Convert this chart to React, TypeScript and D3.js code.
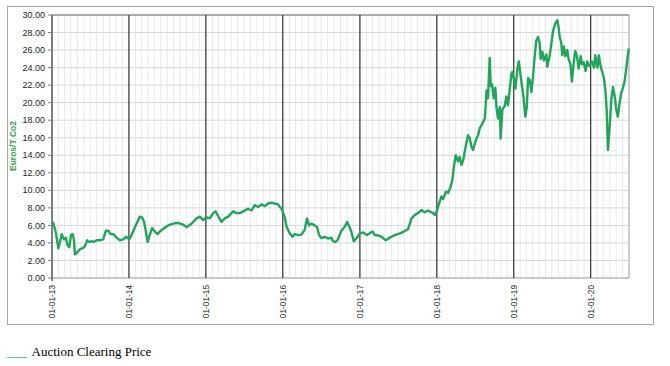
import React from "react";
import * as d3 from "d3";

const dates: string[] = [
  "2013-01-01","2013-01-07","2013-01-20","2013-01-31","2013-02-08","2013-02-16","2013-02-27","2013-03-08","2013-03-15","2013-03-24",
  "2013-04-01","2013-04-09","2013-04-15","2013-04-20","2013-05-01","2013-05-14","2013-05-27","2013-06-06","2013-06-17","2013-06-27",
  "2013-07-08","2013-07-16","2013-08-01","2013-08-17","2013-09-01","2013-09-14","2013-09-25","2013-10-06","2013-10-19","2013-11-04",
  "2013-11-19","2013-12-05","2013-12-18","2013-12-29",
  "2014-01-06","2014-01-21","2014-02-06","2014-02-22","2014-03-05","2014-03-14","2014-03-21","2014-03-31","2014-04-11","2014-04-21",
  "2014-05-04","2014-05-17","2014-05-28","2014-06-12","2014-07-06","2014-07-30","2014-08-23","2014-09-15","2014-10-01","2014-10-25",
  "2014-11-18","2014-12-04","2014-12-19",
  "2015-01-04","2015-01-20","2015-02-05","2015-02-16","2015-02-28","2015-03-16","2015-04-01","2015-04-17","2015-05-10","2015-05-26",
  "2015-06-11","2015-06-27","2015-07-20","2015-08-06","2015-08-21","2015-09-06","2015-09-22","2015-10-08","2015-10-23","2015-11-08",
  "2015-11-24","2015-12-10","2015-12-18","2015-12-26",
  "2016-01-10","2016-01-19","2016-01-26","2016-02-03","2016-02-16","2016-02-27","2016-03-14","2016-03-30","2016-04-14","2016-04-25",
  "2016-05-05","2016-05-16","2016-06-01","2016-06-12","2016-06-21","2016-07-02","2016-07-18","2016-08-03","2016-08-19","2016-08-26",
  "2016-09-08","2016-09-19","2016-10-05","2016-10-21","2016-11-02","2016-11-13","2016-11-21","2016-12-03","2016-12-15",
  "2017-01-02","2017-01-17","2017-02-02","2017-02-17","2017-03-02","2017-03-13","2017-03-29","2017-04-14","2017-05-04","2017-05-23",
  "2017-06-16","2017-07-10","2017-07-29","2017-08-18","2017-09-03","2017-09-19","2017-10-04","2017-10-20","2017-11-05","2017-11-20",
  "2017-12-06","2017-12-14","2017-12-22",
  "2018-01-02","2018-01-12","2018-01-23","2018-01-31","2018-02-13","2018-02-24","2018-03-07","2018-03-16","2018-03-23","2018-04-01",
  "2018-04-12","2018-04-20","2018-04-28","2018-05-06","2018-05-18","2018-05-29","2018-06-06","2018-06-14","2018-06-22","2018-07-05",
  "2018-07-16","2018-07-24","2018-08-05","2018-08-17","2018-08-25","2018-09-01","2018-09-09","2018-09-14","2018-09-20","2018-09-28",
  "2018-10-06","2018-10-11","2018-10-18","2018-10-27","2018-10-31","2018-11-08","2018-11-19","2018-11-27","2018-12-05","2018-12-13",
  "2018-12-21","2018-12-25",
  "2019-01-02","2019-01-09","2019-01-19","2019-01-25","2019-02-03","2019-02-11","2019-02-17","2019-02-25","2019-03-04","2019-03-10",
  "2019-03-18","2019-03-26","2019-04-02","2019-04-10","2019-04-18","2019-04-26","2019-05-04","2019-05-09","2019-05-17","2019-05-24",
  "2019-06-05","2019-06-09","2019-06-20","2019-06-28","2019-07-06","2019-07-17","2019-07-27","2019-08-02","2019-08-07","2019-08-15",
  "2019-08-19","2019-08-27","2019-09-03","2019-09-12","2019-09-19","2019-09-27","2019-10-04","2019-10-12","2019-10-20","2019-10-28",
  "2019-11-05","2019-11-15","2019-11-21","2019-11-29","2019-12-08","2019-12-16","2019-12-24",
  "2020-01-02","2020-01-07","2020-01-17","2020-01-23","2020-02-02","2020-02-09","2020-02-17","2020-02-25","2020-03-04","2020-03-11",
  "2020-03-17","2020-03-23","2020-03-31","2020-04-08","2020-04-16","2020-04-24","2020-05-02","2020-05-09","2020-05-17","2020-05-25",
  "2020-06-02","2020-06-10","2020-06-18","2020-06-26","2020-06-30",
];

const prices: number[] = [
  6.4,6.3,5.1,3.4,4.1,5.0,4.4,4.6,3.8,3.5,
  4.9,5.0,4.4,2.7,2.9,3.3,3.4,3.6,4.3,4.1,
  4.2,4.1,4.3,4.3,4.4,5.4,5.4,5.0,5.0,4.6,
  4.3,4.4,4.7,4.5,
  4.5,5.3,6.2,7.0,6.9,6.4,5.5,4.1,5.0,5.7,
  5.3,5.0,5.3,5.6,6.0,6.2,6.3,6.1,5.8,6.2,
  6.8,7.0,6.6,
  6.9,6.8,7.4,7.6,7.1,6.4,6.8,7.0,7.6,7.4,
  7.4,7.6,7.9,7.7,8.3,8.1,8.4,8.2,8.5,8.6,
  8.5,8.4,8.1,7.9,
  7.0,5.85,5.5,5.1,4.7,5.0,4.9,4.95,5.5,6.8,
  6.0,6.2,6.0,5.8,4.9,4.55,4.7,4.5,4.6,4.2,
  4.1,4.4,5.4,5.85,6.4,5.8,5.3,4.2,4.5,
  5.1,5.2,4.9,5.1,5.3,4.9,4.85,4.7,4.3,4.6,
  4.9,5.1,5.3,5.6,6.8,7.2,7.4,7.75,7.5,7.7,
  7.5,7.4,7.2,
  7.7,8.5,9.3,9.0,9.85,9.7,10.4,11.2,12.7,14.0,
  13.3,13.8,12.9,13.4,15.0,16.3,16.0,15.0,14.6,15.7,
  16.3,17.1,17.6,18.2,21.4,20.5,25.1,21.9,22.1,20.5,
  21.7,19.5,18.2,19.5,15.9,19.2,19.6,20.7,19.7,21.5,
  23.3,23.5,
  22.6,21.6,24.0,24.7,23.0,21.6,20.5,18.4,19.5,22.8,
  22.6,21.2,22.8,25.2,27.1,27.5,26.8,25.0,25.8,24.8,
  25.5,24.1,25.3,26.6,28.1,29.05,29.4,28.6,27.5,26.8,
  25.4,26.4,25.3,26.0,24.9,24.4,22.4,24.4,25.9,25.3,
  23.9,25.3,24.4,24.6,23.6,24.7,24.2,
  24.4,24.7,24.0,25.4,24.0,25.4,24.2,23.5,22.8,21.4,
  19.2,14.6,17.2,20.3,21.8,20.7,19.2,18.4,19.9,21.1,
  21.7,22.4,23.9,25.5,26.2,
];

const yTicks: number[] = [0, 2, 4, 6, 8, 10, 12, 14, 16, 18, 20, 22, 24, 26, 28, 30];
const yearTicks: string[] = ["2013-01-01","2014-01-01","2015-01-01","2016-01-01","2017-01-01","2018-01-01","2019-01-01","2020-01-01"];
const xStart = "2013-01-01";
const xEnd = "2020-07-01";
const yTitle = "Euros/T Co2";
const legendLabel = "Auction Clearing Price";

const W = 670;
const H = 366;
const L = 52, R = 629, T = 15, B = 278;

export default function App() {
  const parse = d3.timeParse("%Y-%m-%d");
  const x = d3.scaleTime().domain([parse(xStart)!, parse(xEnd)!]).range([L, R]);
  const y = d3.scaleLinear().domain([0, 30]).range([B, T]);
  const fmtX = d3.timeFormat("%d-%m-%y");
  const data = dates.map((d, i) => ({ t: parse(d)!, v: prices[i] }));
  const line = d3.line<{ t: Date; v: number }>().x(d => x(d.t)).y(d => y(d.v));
  const months = d3.timeMonth.range(parse(xStart)!, parse(xEnd)!);
  const years = yearTicks.map(s => parse(s)!);
  const font = "'Liberation Sans', 'DejaVu Sans', sans-serif";

  return (
    <svg width={W} height={H} style={{ position: "absolute", left: 0, top: 0, background: "#fff" }}>
      <rect x={7.5} y={6.5} width={646} height={318} fill="#fff" stroke="#a6a6a6" strokeWidth={1} />
      {months.map((m, i) => (
        <line key={"m" + i} x1={x(m)} x2={x(m)} y1={T} y2={B} stroke="#e3e3e3" strokeWidth={0.8} />
      ))}
      {yTicks.map(v => (
        <line key={"h" + v} x1={L} x2={R} y1={y(v)} y2={y(v)} stroke="#d9d9d9" strokeWidth={1} />
      ))}
      <line x1={L} x2={R} y1={T} y2={T} stroke="#6b6b6b" strokeWidth={1.2} />
      <line x1={R} x2={R} y1={T} y2={B} stroke="#9a9a9a" strokeWidth={1} />
      <line x1={L} x2={R} y1={B} y2={B} stroke="#a6a6a6" strokeWidth={1} />
      {years.map((d, i) => (
        <line key={"y" + i} x1={x(d)} x2={x(d)} y1={T} y2={i === 0 ? B + 3 : B} stroke="#404040" strokeWidth={1.3} />
      ))}
      {yTicks.map(v => (
        <g key={"t" + v}>
          <line x1={L - 4} x2={L} y1={y(v)} y2={y(v)} stroke="#7f7f7f" strokeWidth={1} />
          <text x={45} y={y(v)} dy="0.35em" textAnchor="end" fontFamily={font} fontSize={9} fill="#262626">
            {v.toFixed(2)}
          </text>
        </g>
      ))}
      {years.map((d, i) => (
        <text
          key={"xl" + i}
          transform={`translate(${x(d) + 3.2},285) rotate(-90)`}
          textAnchor="end"
          fontFamily={font}
          fontSize={8.3}
          fill="#262626"
        >
          {fmtX(d)}
        </text>
      ))}
      <text
        transform={`translate(16,146) rotate(-90)`}
        textAnchor="middle"
        fontFamily={font}
        fontSize={8.5}
        fontWeight={600}
        fill="#33a04a"
      >
        {yTitle}
      </text>
      <path d={line(data) || ""} fill="none" stroke="#21a55a" strokeWidth={2.4} strokeLinejoin="round" />
      <text x={7} y={356} fontFamily="'Liberation Serif', 'Times New Roman', serif" fontSize={13} fill="#000">
        <tspan fill="#21a55a">___</tspan>
        <tspan dx={5}>{legendLabel}</tspan>
      </text>
    </svg>
  );
}
